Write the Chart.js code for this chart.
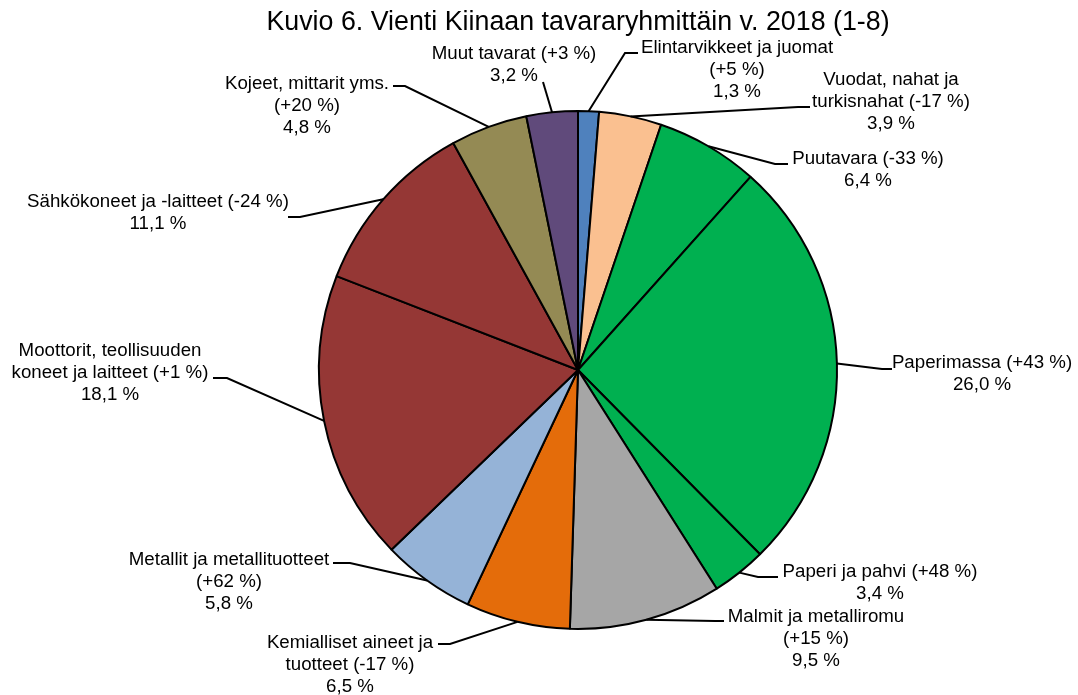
<!DOCTYPE html>
<html>
<head>
<meta charset="utf-8">
<script src="https://cdn.jsdelivr.net/npm/chart.js@4/dist/chart.umd.min.js"></script>
<style>
  html, body { margin: 0; padding: 0; background: #fff; }
  canvas { display: block; }
</style>
</head>
<body>
<canvas id="pie" width="1078" height="695"></canvas>
<script>
/* --- data: tavararyhmät myötäpäivään klo 12:sta --- */
const categories = [
    "Elintarvikkeet ja juomat",
    "Vuodat, nahat ja turkisnahat",
    "Puutavara",
    "Paperimassa",
    "Paperi ja pahvi",
    "Malmit ja metalliromu",
    "Kemialliset aineet ja tuotteet",
    "Metallit ja metallituotteet",
    "Moottorit, teollisuuden koneet ja laitteet",
    "Sähkökoneet ja -laitteet",
    "Kojeet, mittarit yms.",
    "Muut tavarat"
];
const changes = ["+5", "-17", "-33", "+43", "+48", "+15", "-17", "+62", "+1", "-24", "+20", "+3"];
const shares = [1.3, 3.9, 6.4, 26.0, 3.4, 9.5, 6.5, 5.8, 18.1, 11.1, 4.8, 3.2];
const colors = ["#4F81BD", "#FAC090", "#00B050", "#00B050", "#00B050", "#A6A6A6",
                "#E46C0A", "#95B3D7", "#953735", "#953735", "#948A54", "#604A7B"];

const TITLE = "Kuvio 6. Vienti Kiinaan tavararyhmittäin v. 2018 (1-8)";
const FONT = '"Liberation Sans", Arial, sans-serif';

/* --- label layout: text centre x, first baseline, wrap width, leader elbow --- */
const labelLayout = [
    { x: 737, y: 53,  wrap: 205, ey: 53,  e1: 625, e2: 638 },
    { x: 891, y: 85,  wrap: 170, ey: 107, e1: 798, e2: 810 },
    { x: 868, y: 164, wrap: 230, ey: 164, e1: 775, e2: 788 },
    { x: 982, y: 368, wrap: 230, ey: 369, e1: 882, e2: 892 },
    { x: 880, y: 577, wrap: 250, ey: 577, e1: 758, e2: 778 },
    { x: 816, y: 622, wrap: 190, ey: 621, e1: 715, e2: 724 },
    { x: 350, y: 648, wrap: 180, ey: 644, e1: 450, e2: 438 },
    { x: 229, y: 565, wrap: 215, ey: 563, e1: 350, e2: 333 },
    { x: 110, y: 356, wrap: 205, ey: 378, e1: 227, e2: 213 },
    { x: 158, y: 207, wrap: 300, ey: 217, e1: 300, e2: 288 },
    { x: 307, y: 89,  wrap: 180, ey: 86,  e1: 405, e2: 393 },
    { x: 514, y: 59,  wrap: 230, ey: 82,  e1: 543, e2: 543 }
];

function wrapText(ctx, text, maxW) {
    const words = text.split(" ");
    const lines = [];
    let cur = "";
    for (const w of words) {
        const test = cur ? cur + " " + w : w;
        if (cur && ctx.measureText(test).width > maxW) {
            lines.push(cur);
            cur = w;
        } else {
            cur = test;
        }
    }
    if (cur) lines.push(cur);
    return lines;
}

const labelPlugin = {
    id: "pieLabels",
    afterDraw(chart) {
        const ctx = chart.ctx;
        ctx.save();

        /* otsikko */
        ctx.fillStyle = "#000";
        ctx.font = "26.8px " + FONT;
        ctx.textAlign = "center";
        ctx.textBaseline = "alphabetic";
        ctx.fillText(TITLE, 578, 30);

        const meta = chart.getDatasetMeta(0);
        ctx.font = "18.7px " + FONT;

        meta.data.forEach((arc, i) => {
            const L = labelLayout[i];
            const p = arc.getProps(["x", "y", "startAngle", "endAngle", "outerRadius"], true);
            const mid = (p.startAngle + p.endAngle) / 2;
            const ax = p.x + Math.cos(mid) * p.outerRadius;
            const ay = p.y + Math.sin(mid) * p.outerRadius;

            /* leader line */
            ctx.strokeStyle = "#000";
            ctx.lineWidth = 2;
            ctx.beginPath();
            ctx.moveTo(ax, ay);
            ctx.lineTo(L.e1, L.ey);
            ctx.lineTo(L.e2, L.ey);
            ctx.stroke();

            /* text */
            const head = categories[i] + " (" + changes[i] + "\u00a0%)";
            const lines = wrapText(ctx, head, L.wrap);
            lines.push(shares[i].toFixed(1).replace(".", ",") + " %");
            ctx.fillStyle = "#000";
            lines.forEach((ln, k) => ctx.fillText(ln, L.x, L.y + k * 22));
        });

        ctx.restore();
    }
};

new Chart(document.getElementById("pie"), {
    type: "pie",
    data: {
        labels: categories,
        datasets: [{
            data: shares,
            backgroundColor: colors,
            borderColor: "#000",
            borderWidth: 2
        }]
    },
    options: {
        responsive: false,
        animation: false,
        layout: { padding: { top: 110, bottom: 65, left: 318, right: 240 } },
        plugins: {
            legend: { display: false },
            tooltip: { enabled: false },
            title: { display: false }
        }
    },
    plugins: [labelPlugin]
});
</script>
</body>
</html>
